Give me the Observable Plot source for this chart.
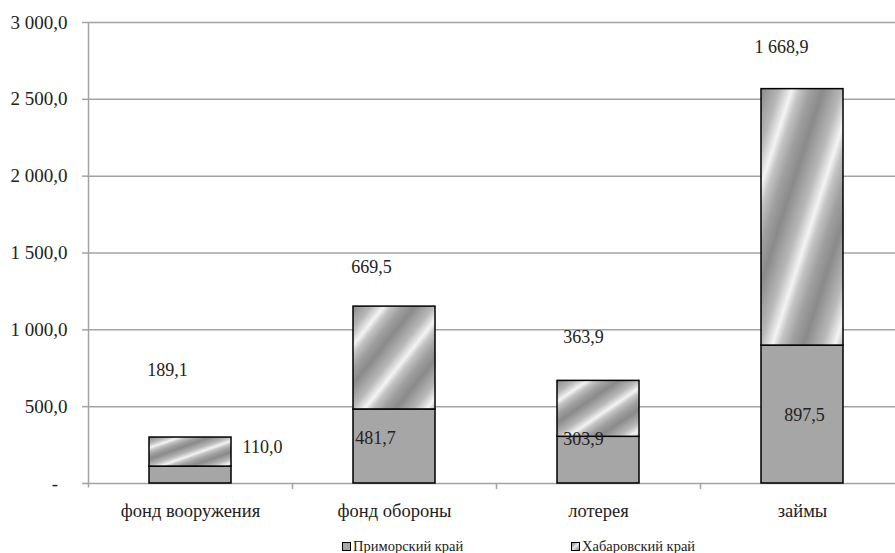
<!DOCTYPE html>
<html><head><meta charset="utf-8">
<script src="https://cdn.jsdelivr.net/npm/d3@7"></script>
<script src="https://cdn.jsdelivr.net/npm/@observablehq/plot@0.6"></script>
<style>
body{margin:0;overflow:hidden;background:#fff;font-family:"Liberation Serif","DejaVu Serif","Noto Serif","Times New Roman",Times,serif;}
#chart{position:relative;width:895px;height:553px;overflow:hidden;}
#chart svg, #chart svg text{font-family:"Liberation Serif","DejaVu Serif","Noto Serif","Times New Roman",Times,serif !important;}
.legend{position:absolute;top:538px;font-size:14.5px;line-height:16px;color:#222;display:flex;align-items:center;white-space:nowrap}
.sw{display:inline-block;width:7px;height:7px;border:1px solid #000;margin-right:2px}
</style></head><body><div id="chart"></div>
<script>
const categories = ["фонд вооружения", "фонд обороны", "лотерея", "займы"];
const primorsky = [110.0, 481.7, 303.9, 897.5];
const khabarovsk = [189.1, 669.5, 363.9, 1668.9];
const seriesNames = ["Приморский край", "Хабаровский край"];
const yTicks = [0, 500, 1000, 1500, 2000, 2500, 3000];

// label nudges (pixels) — layout only
const khabNudge = [[-23, -67], [-23, -39], [-15, -44], [-21, -42]];
const primNudge = [[72, -19], [-19, 29], [-15, 2], [2, 70]];

const ru = d3.formatLocale({decimal: ",", thousands: " ", grouping: [3]});
const fmt = ru.format(",.1f");
const rows = categories.map((c, i) => ({cat: c, p: primorsky[i], k: khabarovsk[i], top: primorsky[i] + khabarovsk[i], i}));

const grid = "#a3a3a3";
const textMarks = [];
rows.forEach((r, i) => {
  textMarks.push(Plot.text([r], {x: "cat", y: "top", text: d => fmt(d.k), dx: khabNudge[i][0], dy: khabNudge[i][1], fontSize: 18, fill: "#222"}));
  textMarks.push(Plot.text([r], {x: "cat", y: "p", text: d => fmt(d.p), dx: primNudge[i][0], dy: primNudge[i][1], fontSize: 18, fill: "#222"}));
});

const chart = Plot.plot({
  width: 904, height: 530,
  marginLeft: 88, marginRight: 0, marginTop: 22, marginBottom: 47,
  style: {maxWidth: "none", background: "#fff", color: "#222"},
  x: {domain: categories, paddingInner: 0.6, paddingOuter: 0.3, label: null},
  y: {domain: [0, 3000], label: null},
  marks: [
    Plot.gridY(yTicks.filter(v => v > 0), {stroke: grid, strokeOpacity: 1, strokeWidth: 1.5}),
    Plot.ruleY([0], {stroke: grid, strokeWidth: 1.5}),
    // left axis line
    Plot.ruleX([categories[0]], {x: d => d, dx: -102, y1: -30, y2: 3000, stroke: grid, strokeWidth: 1.5}),
    // category boundary ticks
    Plot.ruleX(categories.slice(1), {x: d => d, dx: -102, y1: -40, y2: 0, stroke: grid, strokeWidth: 1.5}),
    Plot.barY(rows, {x: "cat", y1: 0, y2: "p", fill: "#a6a6a6", stroke: "#000", strokeWidth: 1.5}),
    Plot.barY(rows, {x: "cat", y1: "p", y2: "top", fill: "url(#khabStripes)", stroke: "#000", strokeWidth: 1.5}),
    Plot.axisY(yTicks, {tickSize: 6, tickPadding: 15, stroke: grid, strokeWidth: 1.5, fontSize: 19, fill: "#222",
      tickFormat: v => v === 0 ? "-\u00a0\u00a0" : fmt(v)}),
    Plot.axisX({tickSize: 0, tickPadding: 20, fontSize: 18.5, fill: "#222"}),
    ...textMarks
  ]
});

const svg = d3.select(chart);
svg.attr("font-family", "Liberation Serif, DejaVu Serif, serif");
const defs = svg.insert("defs", ":first-child");
const g = defs.append("linearGradient").attr("id", "khabStripes")
  .attr("x1", 0).attr("y1", 0).attr("x2", 0.38).attr("y2", 0.38).attr("spreadMethod", "repeat");
[[0, "#8a8a8a"], [0.3, "#b8b8b8"], [0.5, "#f4f4f4"], [0.62, "#c4c4c4"], [0.8, "#a0a0a0"], [1, "#8a8a8a"]]
  .forEach(([o, c]) => g.append("stop").attr("offset", o).attr("stop-color", c));

const root = document.getElementById("chart");
root.appendChild(chart);
const legendPos = [342, 571];
const swatchFill = ["#a6a6a6", "linear-gradient(135deg,#8a8a8a,#e6e6e6,#8a8a8a)"];
seriesNames.forEach((n, i) => {
  const d = document.createElement("div");
  d.className = "legend";
  d.style.left = legendPos[i] + "px";
  d.innerHTML = `<span class="sw" style="background:${swatchFill[i]}"></span>${n}`;
  root.appendChild(d);
});
</script></body></html>
